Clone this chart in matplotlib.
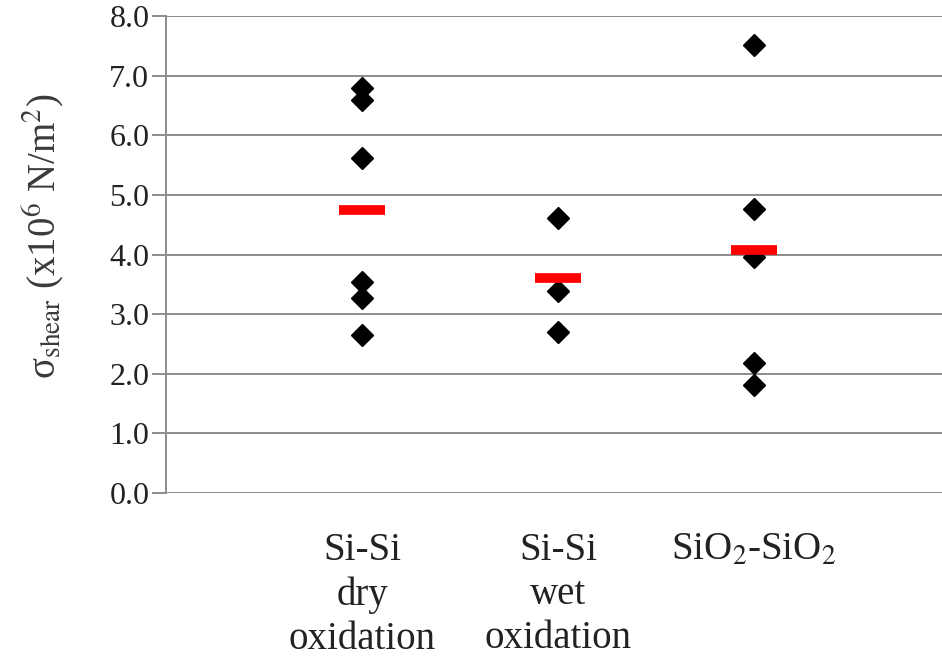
import matplotlib
matplotlib.use("Agg")
import matplotlib.pyplot as plt
import numpy as np

categories = ["Si-Si\ndry\noxidation", "Si-Si\nwet\noxidation", r"SiO$_2$-SiO$_2$"]
dry_vals = [6.80, 6.59, 5.62, 3.54, 3.27, 2.65]
wet_vals = [4.61, 3.39, 2.70]
oxide_vals = [7.52, 4.77, 3.96, 2.18, 1.81]
means = [4.75, 3.61, 4.08]
yticks = [0, 1, 2, 3, 4, 5, 6, 7, 8]

plt.rcParams["font.family"] = ["Liberation Serif", "DejaVu Serif"]
plt.rcParams["mathtext.fontset"] = "stix"

fig = plt.figure(figsize=(9.42, 6.6), dpi=100)
ax = fig.add_axes([166 / 942, 1 - 493 / 660, 1 - 166 / 942, (493 - 16) / 660])

grid_c = "#8c8c8c"
for v in yticks:
    ax.axhline(v, color=grid_c, lw=1.4, zorder=1)

groups = [dry_vals, wet_vals, oxide_vals]
xs = np.arange(1, len(groups) + 1)
for x, vals in zip(xs, groups):
    ax.plot([x] * len(vals), vals, ls="none", marker="D", ms=11,
            color="black", zorder=3)
ax.hlines(means, xs - 0.118, xs + 0.118, color="#ff0000", lw=7,
          capstyle="butt", zorder=4)

ax.set_xlim(0, 3.96)
ax.set_ylim(0, 8)
ax.set_yticks(yticks)
ax.set_yticklabels([f"{v:.1f}" for v in yticks], fontsize=23, color="#222222")
ax.tick_params(axis="y", length=10, width=1.4, color=grid_c, pad=2)
ax.set_xticks(xs)
ax.set_xticklabels(categories, fontsize=28, color="#222222", linespacing=1.25)
ax.tick_params(axis="x", length=0, pad=28)

for s in ["top", "right", "bottom"]:
    ax.spines[s].set_visible(False)
ax.spines["left"].set_color(grid_c)
ax.spines["left"].set_linewidth(1.4)

ax.set_ylabel(r"σ$_{\mathrm{shear}}$ (x10$^{6}$ N/m$^{2}$)",
              fontsize=28, color="#3a3a3a")
ax.yaxis.set_label_coords(-0.127, 0.539)

fig.savefig("out.png", dpi=100)
